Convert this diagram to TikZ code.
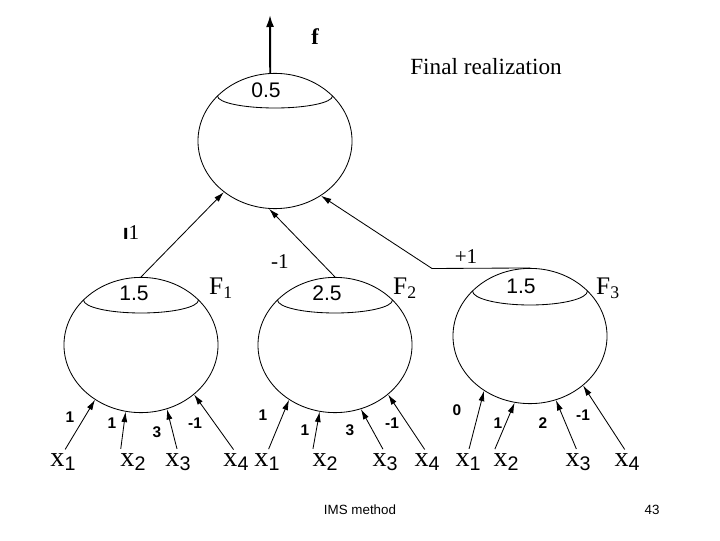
\documentclass[tikz,border=0pt]{standalone}
\usepackage{fontspec}
\setmainfont{Liberation Serif}
\setsansfont{Liberation Sans}
\usetikzlibrary{shapes.geometric,arrows.meta}
\newcommand{\xlab}[1]{x\raisebox{-0.35ex}{\sffamily\fontsize{14}{16}\selectfont #1}}

\begin{document}
\begin{tikzpicture}[x=0.025cm, y=0.025cm,
    every node/.style={inner sep=0pt},
    unit/.style={draw, ellipse, minimum width=3.85cm, minimum height=3.38cm, line width=0.6pt},
    inarr/.style={-{Latex[length=2.6mm,width=1.5mm]}, line width=0.6pt, shorten <=3pt},
    farr/.style={-{Latex[length=3mm,width=2mm]}, line width=1.4pt},
    xin/.style={font=\fontsize{20}{22}\selectfont},
    wt/.style={font=\sffamily\bfseries\fontsize{11}{12}\selectfont},
    thr/.style={font=\sffamily\fontsize{15}{18}\selectfont},
    fname/.style={font=\fontsize{18}{22}\selectfont},
    topwt/.style={font=\fontsize{15}{18}\selectfont}]
  \useasboundingbox (0,0) rectangle (720,540);
  % units
  \node[unit] (top) at (275,399) {};
  \node[unit] (F1) at (141,195) {};
  \node[unit] (F2) at (335,195) {};
  \node[unit] (F3) at (530,204) {};
  \foreach \n/\r in {top/12,F1/13,F2/13,F3/14}
    \draw[line width=0.6pt] ([shift={(-57.5,45)}]\n.center) arc[start angle=180, end angle=360, x radius=57.5, y radius=\r];
  % thresholds and names
  \node[thr] (t0) at (266,450) {0.5};
  \node[thr] (t1) at (134,247) {1.5};
  \node[thr] (t2) at (327,247) {2.5};
  \node[thr] (t3) at (521,254) {1.5};
  \node[fname] (n1) at (221,252) {F\textsubscript{1}};
  \node[fname] (n2) at (405,252) {F\textsubscript{2}};
  \node[fname] (n3) at (608,252) {F\textsubscript{3}};
  % output
  \coordinate (fend) at (270,525);
  \draw[farr] (top.94) -- (fend);
  \node[font=\bfseries\fontsize{16}{18}\selectfont] (fl) at (315,503) {f};
  \node[font=\fontsize{16.5}{20}\selectfont] (title) at (486,473) {Final realization};
  % second layer
  \draw[inarr, shorten <=0pt] (F1.north) -- (top.225);
  \draw[inarr, shorten <=0pt] (F2.north) -- (top.265);
  \coordinate (bend) at (432,271.5);
  \draw[inarr, shorten <=0pt] (F3.north) -- (bend) -- (top.310);
  \node[topwt] (v1) at (131,307) {{\sffamily\bfseries\i}1};
  \node[topwt] (v2) at (280,278) {-1};
  \node[topwt] (v3) at (466,283) {+1};
  % inputs
  \foreach \g/\a/\b/\c/\d in {F1/63/133/178/236, F2/267/325/385/427, F3/468/506/578/627}{
    \node[xin] (\g-1) at (\a,78) {\xlab{1}};
    \node[xin] (\g-2) at (\b,78) {\xlab{2}};
    \node[xin] (\g-3) at (\c,78) {\xlab{3}};
    \node[xin] (\g-4) at (\d,78) {\xlab{4}};
    \draw[inarr] (\g-1.north) -- (\g.230);
    \draw[inarr] (\g-2.north west) -- (\g.257);
    \draw[inarr] (\g-3.north) -- (\g.292);
    \draw[inarr] (\g-4.north) -- (\g.317);
  }
  \foreach \px/\py/\t [count=\k] in {70/123/1, 112/117/1, 157/108/3, 195/117/-1,
      263/125/1, 305/110/1, 350/110/3, 392/117/-1,
      457/130/0, 498/117/1, 543/117/2, 583/125/-1}
    \node[wt] (w\k) at (\px,\py) {\t};
  % footer
  \node[font=\sffamily\fontsize{9.5}{11}\selectfont] (foot) at (360,30) {IMS method};
  \node[font=\sffamily\fontsize{9.5}{11}\selectfont] (page) at (652,30) {43};
\end{tikzpicture}
\end{document}
